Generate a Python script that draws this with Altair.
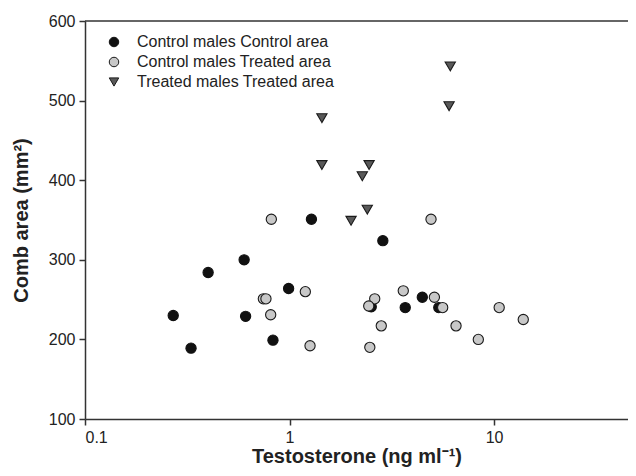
import altair as alt
import pandas as pd

groups = ["Control males Control area", "Control males Treated area", "Treated males Treated area"]

black_x = [1.28, 0.60, 0.40, 0.99, 0.27, 0.61, 0.83, 0.33, 2.86, 2.51, 4.46, 3.68, 5.37]
black_y = [351, 300, 284, 264, 230, 229, 199, 189, 324, 241, 253, 240, 240]

grey_x = [0.815, 4.92, 1.195, 0.745, 0.767, 0.809, 1.26, 2.61, 2.44, 3.60, 5.11, 5.61, 2.81, 6.52, 2.47, 10.6, 13.9, 8.38]
grey_y = [351, 351, 260, 251, 251, 231, 192, 251, 242, 261, 253, 240, 217, 217, 190, 240, 225, 200]

tri_x = [6.11, 6.03, 1.44, 1.44, 2.45, 2.27, 2.40, 2.00]
tri_y = [543, 493, 478, 419, 419, 405, 363, 349]

x_ticks = [0.1, 1, 10]
y_ticks = [100, 200, 300, 400, 500, 600]

rows = []
for g, xs, ys in zip(groups, [black_x, grey_x, tri_x], [black_y, grey_y, tri_y]):
    for xv, yv in zip(xs, ys):
        rows.append({"group": g, "t": xv, "area": yv})
df = pd.DataFrame(rows)

FONT = "Liberation Sans"

leg = alt.Legend(
    orient="none", legendX=21, legendY=13, title=None,
    labelFontSize=16, labelFont=FONT, labelColor="#222222", labelLimit=0,
    symbolSize=90, labelOffset=15, rowPadding=4, padding=0,
    symbolStrokeWidth=1, symbolOpacity=1,
)

xscale = alt.Scale(type="log", domain=[0.1, 45.2], nice=False)
yscale = alt.Scale(domain=[100, 600], nice=False, zero=False)

points = alt.Chart(df).mark_point(
    filled=True, size=105, strokeWidth=1.1, opacity=1
).encode(
    x=alt.X("t:Q", scale=xscale,
            axis=alt.Axis(title="Testosterone (ng ml⁻¹)", values=x_ticks,
                          labelExpr="datum.value == 0.1 ? '0.1' : format(datum.value, 'd')",
                          titlePadding=1)),
    y=alt.Y("area:Q", scale=yscale,
            axis=alt.Axis(title="Comb area (mm²)", values=y_ticks, titlePadding=17)),
    fill=alt.Fill("group:N", scale=alt.Scale(domain=groups, range=["#111111", "#c8c8c8", "#595959"]), legend=leg),
    shape=alt.Shape("group:N", scale=alt.Scale(domain=groups, range=["circle", "circle", "triangle-down"]), legend=leg),
    stroke=alt.Stroke("group:N", scale=alt.Scale(domain=groups, range=["#111111", "#1a1a1a", "#1a1a1a"]), legend=leg),
    order=alt.Order("idx:Q"),
).transform_window(idx="row_number()")

top = alt.Chart(pd.DataFrame({"y": [600]})).mark_rule(color="#333333", strokeWidth=1.5).encode(
    y=alt.Y("y:Q", scale=yscale)
)

chart = alt.layer(top, points).properties(
    width=543, height=398,
    autosize=alt.AutoSizeParams(type="none"),
    padding={"left": 77, "top": 13, "right": 0, "bottom": 49},
).configure_view(stroke=None).configure_axis(
    grid=False, labelFont=FONT, titleFont=FONT, labelFontSize=16, titleFontSize=20,
    labelColor="#222222", titleColor="#222222", titleFontWeight="bold",
    domainColor="#333333", tickColor="#333333", domainWidth=1.5, tickWidth=1.5,
    tickSize=6, labelPadding=4,
)

chart.save("out.html", embed_options={"renderer": "svg", "actions": False})
